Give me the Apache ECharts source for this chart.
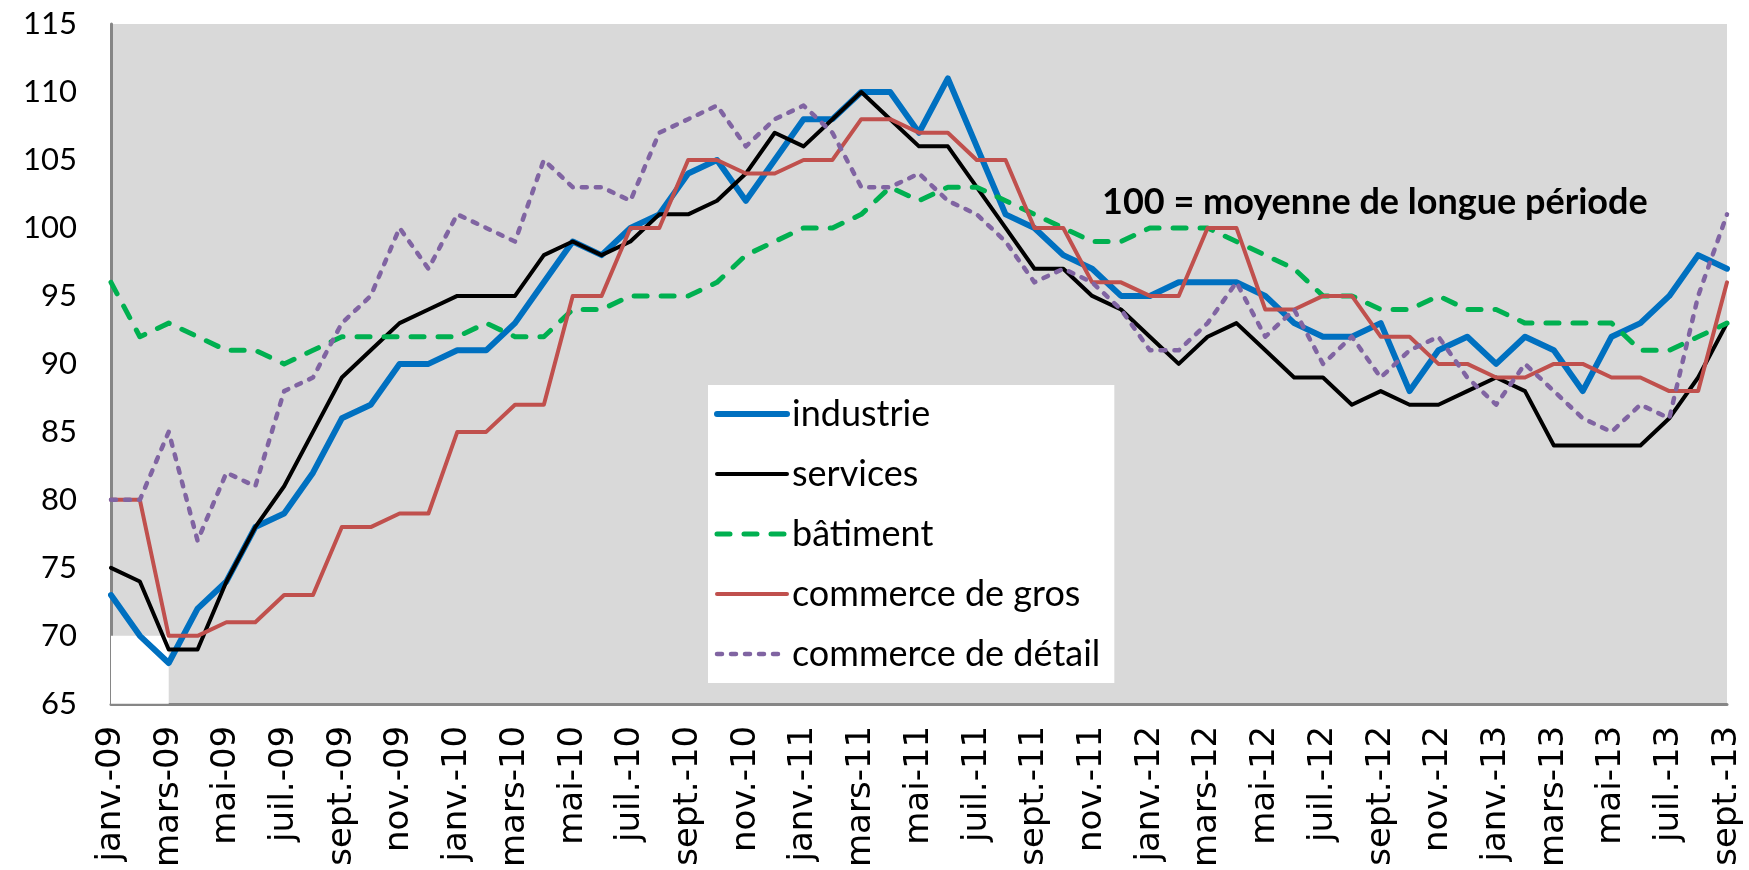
<!DOCTYPE html>
<html>
<head>
<meta charset="utf-8">
<script src="https://cdn.jsdelivr.net/npm/echarts@6/dist/echarts.min.js"></script>
<style>
  html, body { margin: 0; padding: 0; background: #fff; }
  #chart { width: 1749px; height: 870px; }
</style>
</head>
<body>
<div id="chart"></div>
<script>
// mois (janv.-09 -> sept.-13)
const mois = [
  'janv.-09', 'févr.-09', 'mars-09', 'avr.-09', 'mai-09', 'juin-09', 'juil.-09', 'août-09', 'sept.-09', 'oct.-09', 'nov.-09', 'déc.-09',
  'janv.-10', 'févr.-10', 'mars-10', 'avr.-10', 'mai-10', 'juin-10', 'juil.-10', 'août-10', 'sept.-10', 'oct.-10', 'nov.-10', 'déc.-10',
  'janv.-11', 'févr.-11', 'mars-11', 'avr.-11', 'mai-11', 'juin-11', 'juil.-11', 'août-11', 'sept.-11', 'oct.-11', 'nov.-11', 'déc.-11',
  'janv.-12', 'févr.-12', 'mars-12', 'avr.-12', 'mai-12', 'juin-12', 'juil.-12', 'août-12', 'sept.-12', 'oct.-12', 'nov.-12', 'déc.-12',
  'janv.-13', 'févr.-13', 'mars-13', 'avr.-13', 'mai-13', 'juin-13', 'juil.-13', 'août-13', 'sept.-13'
]

// indicateurs de climat des affaires
const industrie = [73, 70, 68, 72, 74, 78, 79, 82, 86, 87, 90, 90, 91, 91, 93, 96, 99, 98, 100, 101, 104, 105, 102, 105, 108, 108, 110, 110, 107, 111, 106, 101, 100, 98, 97, 95, 95, 96, 96, 96, 95, 93, 92, 92, 93, 88, 91, 92, 90, 92, 91, 88, 92, 93, 95, 98, 97]
const services = [75, 74, 69, 69, 74, 78, 81, 85, 89, 91, 93, 94, 95, 95, 95, 98, 99, 98, 99, 101, 101, 102, 104, 107, 106, 108, 110, 108, 106, 106, 103, 100, 97, 97, 95, 94, 92, 90, 92, 93, 91, 89, 89, 87, 88, 87, 87, 88, 89, 88, 84, 84, 84, 84, 86, 89, 93]
const batiment = [96, 92, 93, 92, 91, 91, 90, 91, 92, 92, 92, 92, 92, 93, 92, 92, 94, 94, 95, 95, 95, 96, 98, 99, 100, 100, 101, 103, 102, 103, 103, 102, 101, 100, 99, 99, 100, 100, 100, 99, 98, 97, 95, 95, 94, 94, 95, 94, 94, 93, 93, 93, 93, 91, 91, 92, 93]
const commerceGros = [80, 80, 70, 70, 71, 71, 73, 73, 78, 78, 79, 79, 85, 85, 87, 87, 95, 95, 100, 100, 105, 105, 104, 104, 105, 105, 108, 108, 107, 107, 105, 105, 100, 100, 96, 96, 95, 95, 100, 100, 94, 94, 95, 95, 92, 92, 90, 90, 89, 89, 90, 90, 89, 89, 88, 88, 96]
const commerceDetail = [80, 80, 85, 77, 82, 81, 88, 89, 93, 95, 100, 97, 101, 100, 99, 105, 103, 103, 102, 107, 108, 109, 106, 108, 109, 107, 103, 103, 104, 102, 101, 99, 96, 97, 96, 94, 91, 91, 93, 96, 92, 94, 90, 92, 89, 91, 92, 89, 87, 90, 88, 86, 85, 87, 86, 95, 101]

// coin blanc en bas a gauche du fond gris
const coinBlancMois = ['janv.-09', 'mars-09']
const coinBlancNiveaux = [65, 70]

const chart = echarts.init(document.getElementById('chart'))

const ligne = (name, data, color, width, type) => ({
  name,
  type: 'line',
  data,
  symbol: 'none',
  lineStyle: { color, width, type, join: 'round', cap: 'round' },
  itemStyle: { color }
})

const option = {
  animation: false,
  grid: {
    left: 111,
    right: 22,
    top: 24,
    bottom: 147,
    show: true,
    backgroundColor: '#D9D9D9',
    borderWidth: 0
  },
  legend: {
    data: ['industrie', 'services', 'bâtiment', 'commerce de gros', 'commerce de détail'],
    orient: 'vertical',
    left: 708,
    top: 385,
    backgroundColor: '#ffffff',
    padding: [11, 14, 11, 6],
    itemGap: 24,
    itemWidth: 70,
    itemHeight: 14,
    itemTextGap: 5,
    itemStyle: { opacity: 0 },
    lineStyle: { width: 'inherit' },
    textStyle: { fontFamily: 'Lato', fontSize: 36, lineHeight: 36, color: '#000' }
  },
  xAxis: {
    type: 'category',
    data: mois,
    boundaryGap: false,
    axisLine: { show: true, lineStyle: { color: '#868686', width: 3 } },
    axisTick: { show: false },
    axisLabel: {
      interval: 1,
      rotate: 90,
      margin: 22,
      fontFamily: 'DejaVu Sans',
      fontSize: 34,
      color: '#000'
    },
    splitLine: { show: false }
  },
  yAxis: {
    type: 'value',
    min: 65,
    max: 115,
    interval: 5,
    axisLine: { show: true, lineStyle: { color: '#868686', width: 3 } },
    axisTick: { show: false },
    splitLine: { show: false },
    axisLabel: { fontFamily: 'Lato', fontSize: 31, color: '#000', margin: 34 }
  },
  graphic: [{
    type: 'text',
    left: 1102,
    top: 184,
    style: {
      text: '100 = moyenne de longue période',
      font: 'bold 36px Lato',
      fill: '#000'
    }
  }],
  series: [
    {
      name: 'fond',
      type: 'line',
      data: [],
      silent: true,
      markArea: {
        silent: true,
        itemStyle: { color: '#ffffff' },
        data: [[
          { xAxis: coinBlancMois[0], yAxis: coinBlancNiveaux[0] },
          { xAxis: coinBlancMois[1], yAxis: coinBlancNiveaux[1] }
        ]]
      }
    },
    ligne('industrie', industrie, '#0070C0', 6, 'solid'),
    ligne('services', services, '#000000', 4, 'solid'),
    ligne('bâtiment', batiment, '#00B050', 5, [13, 14]),
    ligne('commerce de gros', commerceGros, '#C0504D', 4, 'solid'),
    ligne('commerce de détail', commerceDetail, '#8064A2', 4.5, [5, 9])
  ]
}

chart.setOption(option)
</script>
</body>
</html>
